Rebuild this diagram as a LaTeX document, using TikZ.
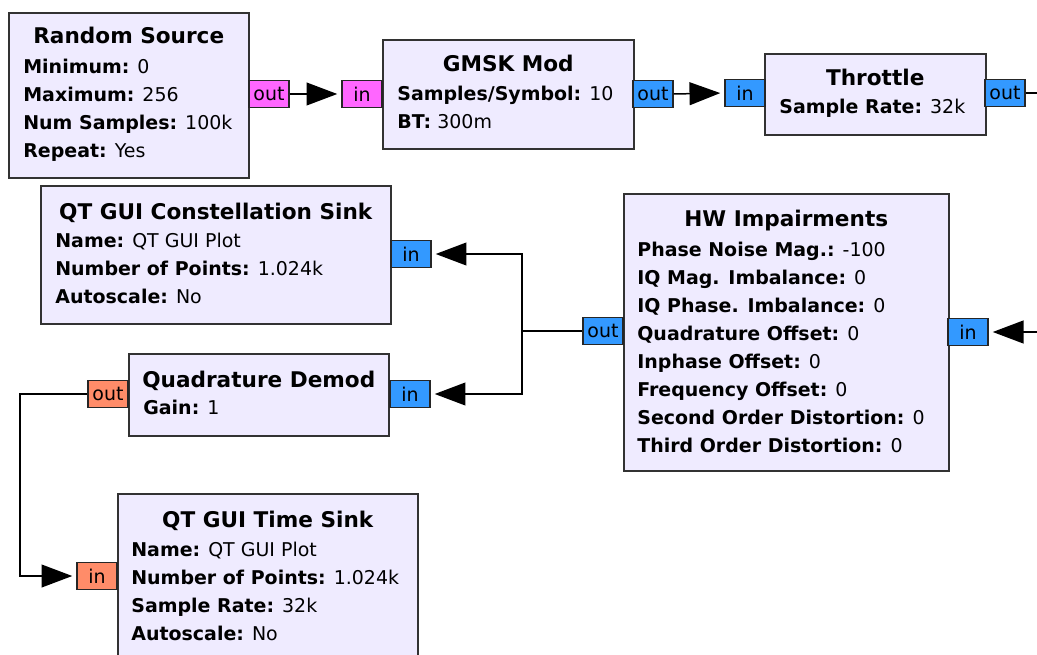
\documentclass[tikz,border=0pt]{standalone}
\usepackage{fontspec}
\setmainfont{DejaVu Sans}
\usetikzlibrary{calc,arrows.meta}

\definecolor{blkfill}{RGB}{239,235,255}
\definecolor{blkline}{RGB}{50,50,50}
\definecolor{cplx}{RGB}{51,153,255}
\definecolor{bytec}{RGB}{255,102,255}
\definecolor{fltc}{RGB}{255,140,105}

\begin{document}
\begin{tikzpicture}[x=0.02cm,y=-0.02cm,
  blk/.style={draw=blkline, fill=blkfill, line width=0.9pt, anchor=north west, inner sep=0pt},
  port/.style={draw=black!85, line width=0.8pt, minimum width=0.8cm, minimum height=0.54cm,
    inner sep=0pt, font=\fontsize{10.8}{13}\selectfont},
  ttl/.style={anchor=base, font=\fontsize{12.3}{15}\selectfont\bfseries},
  prm/.style={anchor=base west, inner sep=0pt, font=\fontsize{10.8}{13}\selectfont},
  wire/.style={line width=0.85pt},
  flow/.style={wire, -{Triangle[length=17.5pt,width=13pt]}, shorten >=2.3pt}]

  \fill[white] (0,0) rectangle (1037,655);
  \clip (0,0) rectangle (1037,655);

  % Random Source
  \node[blk, minimum width=4.8cm, minimum height=3.3cm] (rnd) at (8,12) {};
  \node[ttl] at (rnd.north |- 0,44) {Random Source};
  \node[prm] at (23,74) {\textbf{Minimum:} 0};
  \node[prm] at (23,102) {\textbf{Maximum:} 256};
  \node[prm] at (23,130) {\textbf{Num Samples:} 100k};
  \node[prm] at (23,158) {\textbf{Repeat:} Yes};
  \node[port, fill=bytec] (rnd-out) at (269,94) {out};

  % GMSK Mod
  \node[blk, minimum width=5.02cm, minimum height=2.18cm] (gmsk) at (382,39) {};
  \node[ttl] at (gmsk.north |- 0,72) {GMSK Mod};
  \node[prm] at (397,101) {\textbf{Samples/Symbol:} 10};
  \node[prm] at (397,129) {\textbf{BT:} 300m};
  \node[port, fill=bytec] (gmsk-in) at (362,94) {in};
  \node[port, fill=cplx] (gmsk-out) at (653,94) {out};

  % Throttle
  \node[blk, minimum width=4.42cm, minimum height=1.62cm] (thr) at (764,53) {};
  \node[ttl] at (thr.north |- 0,86) {Throttle};
  \node[prm] at (779,114) {\textbf{Sample Rate:} 32k};
  \node[port, fill=cplx] (thr-in) at (745,93) {in};
  \node[port, fill=cplx] (thr-out) at (1005,93) {out};

  % QT GUI Constellation Sink
  \node[blk, minimum width=7.0cm, minimum height=2.76cm] (const) at (40,185) {};
  \node[ttl] at (const.north |- 0,219) {QT GUI Constellation Sink};
  \node[prm] at (55,247) {\textbf{Name:} QT GUI Plot};
  \node[prm] at (55,275) {\textbf{Number of Points:} 1.024k};
  \node[prm] at (55,303) {\textbf{Autoscale:} No};
  \node[port, fill=cplx] (const-in) at (411,254) {in};

  % Quadrature Demod
  \node[blk, minimum width=5.2cm, minimum height=1.64cm] (qdem) at (128,353) {};
  \node[ttl] at (qdem.north |- 0,387) {Quadrature Demod};
  \node[prm] at (143,414) {\textbf{Gain:} 1};
  \node[port, fill=cplx] (qdem-in) at (410,394) {in};
  \node[port, fill=fltc] (qdem-out) at (108,394) {out};

  % HW Impairments
  \node[blk, minimum width=6.5cm, minimum height=5.54cm] (hw) at (623,193) {};
  \node[ttl] at (hw.north |- 0,226) {HW Impairments};
  \node[prm] at (637,256) {\textbf{Phase Noise Mag.:} -100};
  \node[prm] at (637,284) {\textbf{IQ Mag. Imbalance:} 0};
  \node[prm] at (637,312) {\textbf{IQ Phase. Imbalance:} 0};
  \node[prm] at (637,340) {\textbf{Quadrature Offset:} 0};
  \node[prm] at (637,368) {\textbf{Inphase Offset:} 0};
  \node[prm] at (637,396) {\textbf{Frequency Offset:} 0};
  \node[prm] at (637,424) {\textbf{Second Order Distortion:} 0};
  \node[prm] at (637,452) {\textbf{Third Order Distortion:} 0};
  \node[port, fill=cplx] (hw-out) at (603,331) {out};
  \node[port, fill=cplx] (hw-in) at (968,332) {in};

  % QT GUI Time Sink
  \node[blk, minimum width=6.0cm, minimum height=3.6cm] (tsink) at (117,493) {};
  \node[ttl] at (tsink.north |- 0,527) {QT GUI Time Sink};
  \node[prm] at (131,556) {\textbf{Name:} QT GUI Plot};
  \node[prm] at (131,584) {\textbf{Number of Points:} 1.024k};
  \node[prm] at (131,612) {\textbf{Sample Rate:} 32k};
  \node[prm] at (131,640) {\textbf{Autoscale:} No};
  \node[port, fill=fltc] (tsink-in) at (97,576) {in};

  % connections
  \coordinate (thr-end) at (1045,93);
  \coordinate (hw-feed) at (1045,332);
  \coordinate (split) at (522,331);
  \coordinate (bend) at (20,394);

  \draw[flow] (rnd-out.east) -- (gmsk-in.west);
  \draw[flow] (gmsk-out.east) -- (thr-in.west);
  \draw[wire] (thr-out.east) -- (thr-end);
  \draw[flow] (hw-feed) -- (hw-in.east);
  \draw[wire] (hw-out.west) -- (split);
  \draw[flow] (split) |- (const-in.east);
  \draw[flow] (split) |- (qdem-in.east);
  \draw[flow] (qdem-out.west) -- (bend) |- (tsink-in.west);
\end{tikzpicture}
\end{document}
